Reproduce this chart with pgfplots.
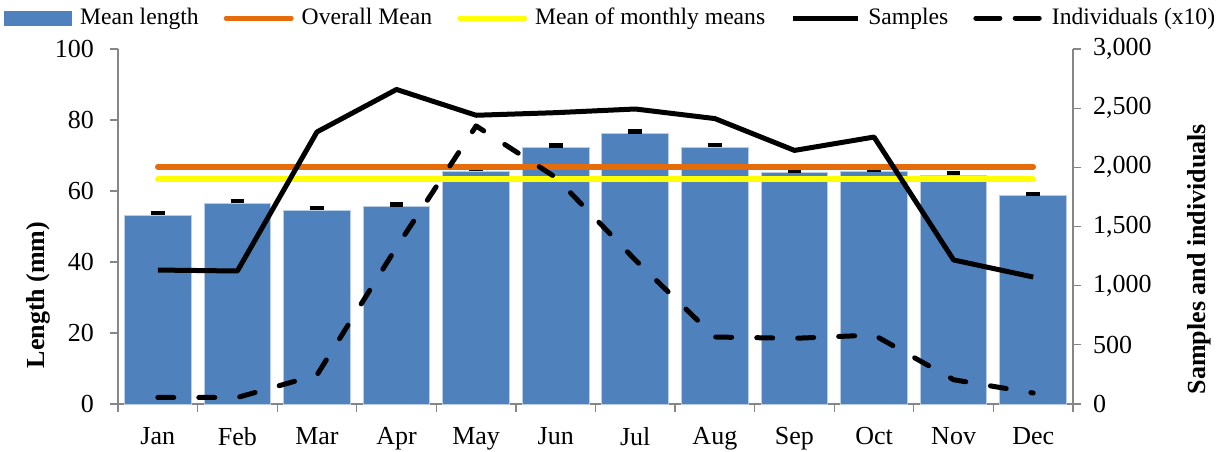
\documentclass[border=0pt]{standalone}
\usepackage{fontspec}
\setmainfont{Liberation Serif}
\usepackage{pgfplots}
\usepackage{pgfplotstable}
\pgfplotsset{compat=1.18}
\definecolor{barblue}{HTML}{4F81BD}
\definecolor{baredge}{HTML}{B9CDE5}
\definecolor{meanorange}{HTML}{E46C0A}
\definecolor{meanyellow}{HTML}{FFFF00}
\definecolor{axgray}{HTML}{868686}

\pgfplotstableread{
x len samp ind
0 53.2 1132 55
1 56.6 1124 55
2 54.6 2299 245
3 55.6 2658 1325
4 65.6 2440 2350
5 72.2 2462 1915
6 76.2 2493 1217
7 72.3 2412 566
8 65.1 2143 555
9 65.4 2256 583
10 64.5 1217 205
11 58.6 1073 93
}\datatable

\pgfplotsset{common/.style={
  scale only axis, width=477.5pt, height=177.5pt,
  at={(0,0)}, anchor=south west,
  xmin=-0.5, xmax=11.5,
  font=\fontsize{12.8}{15}\selectfont,
  tick label style={font=\fontsize{13}{15}\selectfont},
  label style={font=\fontsize{13}{15}\selectfont},
  /pgf/number format/assume math mode=true,
  axis line style={axgray, line width=0.6pt},
  tick style={axgray, line width=0.6pt},
  major tick length=4pt, tick align=outside,
  clip=false,
},
linelegend/.style={legend image code/.code={\draw[##1] (1.2pt,0pt) -- (33.8pt,0pt);}},
dashlegend/.style={legend image code/.code={\draw[##1, dash pattern=on 12pt off 7.7pt] (1.1pt,0pt) -- (33.9pt,0pt);}},
barlegend/.style={legend image code/.code={\fill[barblue] (0pt,-3.4pt) rectangle (33.5pt,3.4pt);}},
}

\begin{document}
\begin{tikzpicture}
\path[use as bounding box] (-59pt,-23.5pt) rectangle (554.5pt,202pt);
\begin{axis}[common,
  ymin=0, ymax=100, ytick={0,20,...,100},
  axis y line*=left, axis x line*=bottom,
  xtick={-0.5,0.5,1.5,2.5,3.5,4.5,5.5,6.5,7.5,8.5,9.5,10.5,11.5},
  xticklabels={},
  extra x ticks={0,1,2,3,4,5,6,7,8,9,10,11},
  extra x tick labels={Jan,Feb,Mar,Apr,May,Jun,Jul,Aug,Sep,Oct,Nov,Dec},
  extra x tick style={major tick length=0pt, xticklabel style={yshift=-8pt}},
  yticklabel style={xshift=-4.5pt},
  ylabel={\textbf{Length (mm)}},
  ylabel style={at={(axis description cs:-0.0838,0.307)}, anchor=center},
]
\addplot[ybar, bar width=33.3pt, fill=barblue, draw=baredge, line width=0.5pt,
  error bars/.cd, y dir=plus, y fixed=0.6,
  error bar style={black, line width=0.6pt},
  error mark=|,
  error mark options={black, line width=2.2pt, mark size=3.4pt}]
  table[x=x, y=len] {\datatable};
\addplot[meanorange, line width=2.8pt, line cap=round] coordinates {(0,66.8) (11,66.8)};
\addplot[meanyellow, line width=2.8pt, line cap=round] coordinates {(0,63.3) (11,63.3)};
\end{axis}
\begin{axis}[common,
  ymin=0, ymax=3000, ytick={0,500,...,3000},
  axis y line*=right, axis x line=none,
  yticklabel style={/pgf/number format/1000 sep={,}, xshift=2.5pt},
  ylabel={\textbf{Samples and individuals}},
  ylabel style={at={(axis description cs:1.132,0.408)}, anchor=center},
  legend columns=-1,
  linelegend,
  legend style={draw=none, fill=none, at={(0.517,1.087)}, anchor=center,
    font=\fontsize{11.8}{14}\selectfont,
    nodes={inner sep=2pt},
    /tikz/every odd column/.append style={column sep=2pt},
    /tikz/every even column/.append style={column sep=10.5pt}},
]
\addlegendimage{barlegend}
\addlegendentry{Mean length}
\addlegendimage{meanorange, line width=2.4pt, line cap=round}
\addlegendentry{Overall Mean}
\addlegendimage{meanyellow, line width=2.4pt, line cap=round}
\addlegendentry{Mean of monthly means}
\addplot[black, line width=2.5pt, line join=round] table[x=x, y=samp] {\datatable};
\addlegendentry{Samples}
\addplot[black, line width=2.5pt, line cap=round, line join=round, dash pattern=on 8pt off 12.5pt, dashlegend]
  table[x=x, y=ind] {\datatable};
\addlegendentry{Individuals (x10)}
\end{axis}
\end{tikzpicture}
\end{document}
